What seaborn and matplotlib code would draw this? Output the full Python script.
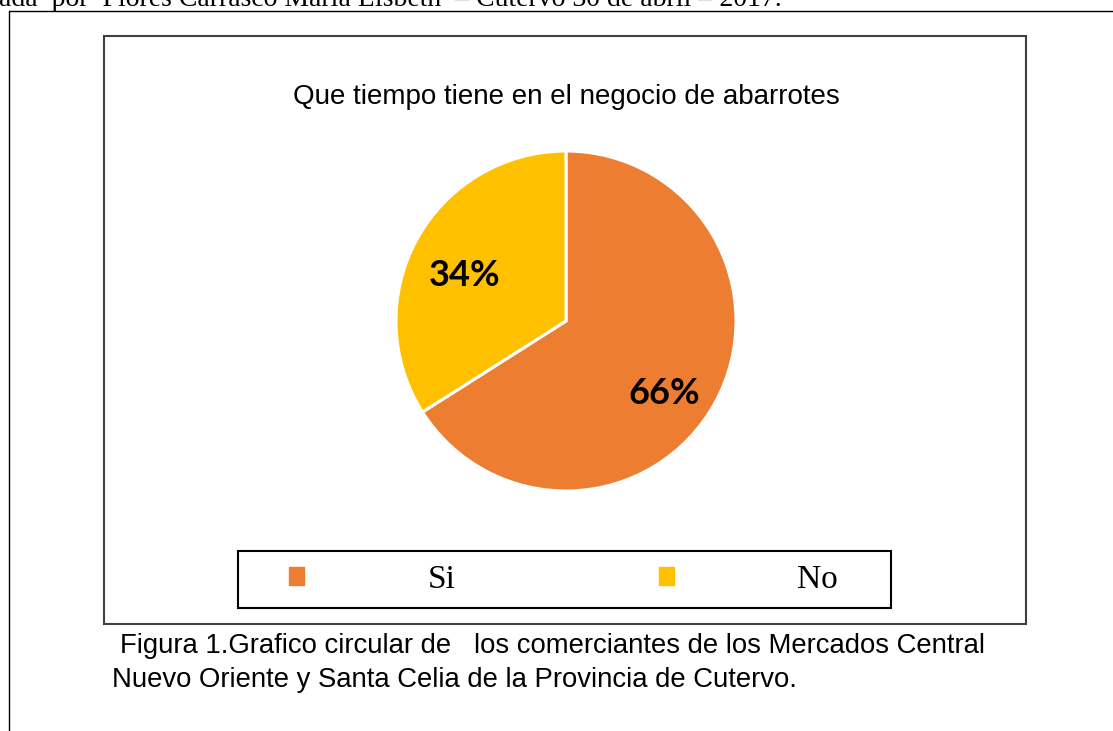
import matplotlib
matplotlib.use("Agg")
import matplotlib.pyplot as plt
from matplotlib.patches import Rectangle, Patch
import seaborn as sns

# Data
categories = ["Si", "No"]
values = [66, 34]
colors = ["#ED7D31", "#FFC000"]

title = "Que tiempo tiene en el negocio de abarrotes"
caption_1 = "Figura 1.Grafico circular de   los comerciantes de los Mercados Central"
caption_2 = "Nuevo Oriente y Santa Celia de la Provincia de Cutervo."
header = "ada  por  Flores Carrasco Maria Lisbeth  \u2013 Cutervo 30 de abril \u2013 2017."

sns.set_theme(style="white")
plt.rcParams["font.family"] = ["Liberation Sans", "DejaVu Sans"]

W, H = 1113, 731
fig = plt.figure(figsize=(W / 100, H / 100), dpi=100)
fig.patch.set_facecolor("white")


def fx(px):
    return px / W


def fy(py):
    return 1 - py / H


# page frame lines (left and top)
fig.add_artist(plt.Line2D([fx(8.5), fx(8.5)], [fy(10.5), 0], transform=fig.transFigure,
                          color="black", lw=1.0))
fig.add_artist(plt.Line2D([fx(8.5), 1], [fy(10.5), fy(10.5)], transform=fig.transFigure,
                          color="black", lw=1.0))

# header text, clipped by the top edge like in the scanned page
fig.text(fx(-1), fy(6), header, family=["Liberation Serif", "DejaVu Serif"],
         fontsize=20, ha="left", va="baseline", color="black")

# chart area box
fig.add_artist(Rectangle((fx(104), fy(624)), fx(1026) - fx(104), fy(36) - fy(624),
                         transform=fig.transFigure, fill=False,
                         edgecolor="#404040", lw=1.5))

# title
fig.text(fx(566), fy(97), title, fontsize=20, ha="center", va="center", color="black")

# pie
cx, cy, r = 566, 321, 170
ax = fig.add_axes([fx(cx - r), fy(cy + r), fx(2 * r), (2 * r) / H])
wedges, texts, autotexts = ax.pie(
    values, colors=colors, startangle=90, counterclock=False,
    autopct="%1.0f%%", pctdistance=0.68,
    wedgeprops=dict(edgecolor="white", linewidth=2.2),
    textprops=dict(fontsize=26, fontweight="bold", color="black",
                   family=["Lato", "DejaVu Sans"]),
)
# nudge labels a bit (Excel-style placement); order follows values
nudges = [(-0.02, -0.10), (0.0, -0.06)]
for t, (dx, dy) in zip(autotexts, nudges):
    x, y = t.get_position()
    t.set_position((x + dx, y + dy))
ax.set_xlim(-1.0, 1.0)
ax.set_ylim(-1.0, 1.0)
ax.set_aspect("equal")
ax.axis("off")

# legend box
fig.add_artist(Rectangle((fx(238), fy(608)), fx(891) - fx(238), fy(551) - fy(608),
                         transform=fig.transFigure, fill=False,
                         edgecolor="black", lw=1.5))
handles = [Patch(facecolor=c, edgecolor=c, label=l) for c, l in zip(colors, categories)]
leg = fig.legend(handles=handles, loc="center left", bbox_to_anchor=(fx(289), fy(580)),
                 ncol=2, frameon=False, handlelength=0.45, handleheight=0.45,
                 handletextpad=3.7, columnspacing=6.1, borderpad=0, borderaxespad=0,
                 labelcolor="black",
                 prop=dict(family=["Liberation Serif", "DejaVu Serif"], size=24))

# caption
cap_font = dict(family=["Liberation Sans", "DejaVu Sans"],
                fontsize=19.8, color="black", ha="left", va="center")
fig.text(fx(120), fy(646), caption_1, **cap_font)
fig.text(fx(112), fy(680), caption_2, **cap_font)

fig.savefig("out.png", dpi=100, facecolor="white")
